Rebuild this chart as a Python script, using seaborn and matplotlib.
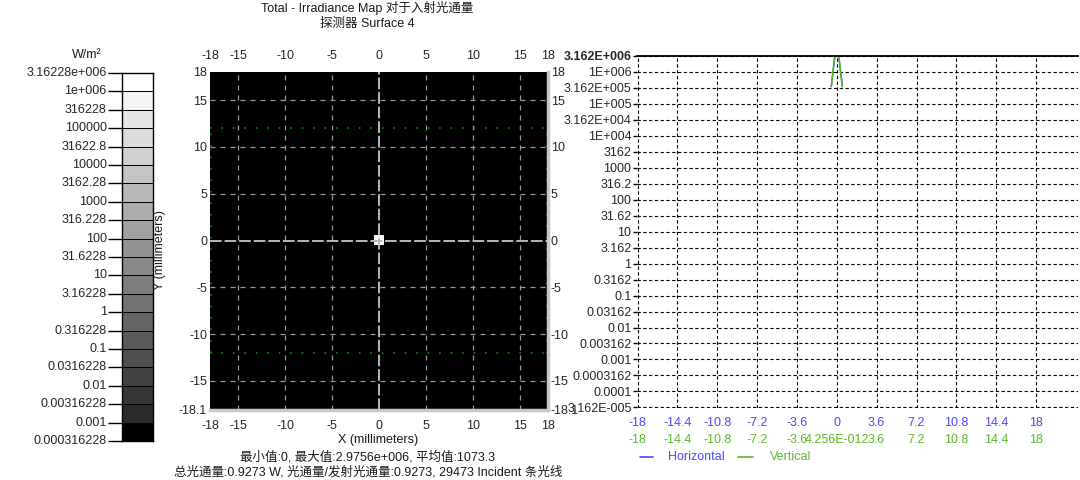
import numpy as np
import matplotlib
matplotlib.use('Agg')
import matplotlib.pyplot as plt
import matplotlib.transforms as mtransforms
from matplotlib.colors import ListedColormap, BoundaryNorm
import pandas as pd
import seaborn as sns

# ---------------- data ----------------
cbar_labels = ['3.16228e+006', '1e+006', '316228', '100000', '31622.8', '10000',
               '3162.28', '1000', '316.228', '100', '31.6228', '10', '3.16228', '1',
               '0.316228', '0.1', '0.0316228', '0.01', '0.00316228', '0.001', '0.000316228']
band_gray = [0, 42, 54, 66, 78, 89, 101, 113, 125, 137, 148, 160, 172, 184, 196,
             208, 220, 231, 243, 255]  # bottom band -> top band
map_xticks = [-18, -15, -10, -5, 0, 5, 10, 15, 18]
map_yticks = [18, 15, 10, 5, 0, -5, -10, -15, -18.1]
map_ytick_labels = ['18', '15', '10', '5', '0', '-5', '-10', '-15', '-18.1']
grid_pos = [-15, -10, -5, 5, 10, 15]
detector_pixels = 101
detector_half = 18.0
spot_values = [[4.0e5, 2.9e6, 4.0e5],
               [2.9e6, 2.9756e6, 2.9e6],
               [4.0e5, 2.9e6, 4.0e5]]
green_box_y = 12.0

profile_x = [-0.5, -0.18, 0.18, 0.5]
horizontal_profile = [3.5e5, 3.1e6, 3.1e6, 3.5e5]
vertical_profile = [3.5e5, 3.1e6, 3.1e6, 3.5e5]
profile_ticks = [-18, -14.4, -10.8, -7.2, -3.6, 0, 3.6, 7.2, 10.8, 14.4, 18]
h_tick_labels = ['-18', '-14.4', '-10.8', '-7.2', '-3.6', '0', '3.6', '7.2', '10.8', '14.4', '18']
v_tick_labels = ['-18', '-14.4', '-10.8', '-7.2', '-3.6', '4.256E-012', '3.6', '7.2', '10.8', '14.4', '18']
profile_ylabels = ['3.162E+006', '1E+006', '3.162E+005', '1E+005', '3.162E+004', '1E+004',
                   '3162', '1000', '316.2', '100', '31.62', '10', '3.162', '1', '0.3162',
                   '0.1', '0.03162', '0.01', '0.003162', '0.001', '0.0003162', '0.0001',
                   '3.162E-005']

title1 = 'Total - Irradiance Map 对于入射光通量'
title2 = '探测器 Surface 4'
info1 = '最小值:0, 最大值:2.9756e+006, 平均值:1073.3'
info2 = '总光通量:0.9273 W, 光通量/发射光通量:0.9273, 29473 Incident 条光线'

# ---------------- style ----------------
sns.set_theme(style='white')
plt.rcParams['font.family'] = ['Liberation Sans', 'Noto Sans CJK SC', 'DejaVu Sans']
plt.rcParams['font.size'] = 9
plt.rcParams['text.color'] = '#1a1a1a'

W, H = 1080, 480
fig = plt.figure(figsize=(W / 100, H / 100), dpi=100)
fig.patch.set_facecolor('white')


def px_axes(x0, y0, x1, y1):
    return fig.add_axes([x0 / W, 1 - y1 / H, (x1 - x0) / W, (y1 - y0) / H])


grays = [(g / 255, g / 255, g / 255) for g in band_gray]
cmap = ListedColormap(grays)

# ---------------- colorbar ----------------
ax_cb = px_axes(122, 73, 153, 441)
cb_data = pd.DataFrame(np.arange(len(band_gray))[::-1].reshape(-1, 1))
sns.heatmap(cb_data, ax=ax_cb, cmap=cmap, vmin=-0.5, vmax=len(band_gray) - 0.5,
            cbar=False, linewidths=0.45, linecolor='black', xticklabels=False)
ax_cb.set_yticks(np.arange(len(cbar_labels)))
ax_cb.set_yticklabels(cbar_labels, rotation=0, fontsize=9)
ax_cb.tick_params(axis='y', left=True, length=10, width=1, color='black', pad=1)
ax_cb.tick_params(axis='x', bottom=False)
for s in ax_cb.spines.values():
    s.set_visible(True)
    s.set_color('black')
    s.set_linewidth(1)
ax_cb.set_xlabel('')
ax_cb.set_ylabel('')
fig.text(87 / W, 1 - 55 / H, 'W/m²', ha='center', va='center', fontsize=9)

# ---------------- irradiance map ----------------
ax_m = px_axes(210, 72, 548, 410)
img = np.zeros((detector_pixels, detector_pixels))
spot = np.array(spot_values)
c = detector_pixels // 2
k = spot.shape[0] // 2
img[c - k:c + k + 1, c - k:c + k + 1] = spot
bounds = 10 ** (np.arange(-7, 14) / 2.0)
mcmap = ListedColormap(grays)
mcmap.set_under('black')
norm = BoundaryNorm(bounds, mcmap.N)
ax_m.imshow(img, cmap=mcmap, norm=norm, origin='lower', interpolation='nearest',
            extent=[-detector_half, detector_half, -detector_half, detector_half], aspect='auto')
ax_m.set_facecolor('black')
ax_m.set_xlim(-18, 18)
ax_m.set_ylim(-18.1, 18)
for g in grid_pos:
    ax_m.axvline(g, color='#9a9a9a', lw=0.9, ls=(0, (4, 4)))
    ax_m.axhline(g, color='#9a9a9a', lw=0.9, ls=(0, (4, 4)))
ax_m.axvline(0, color='#b8b8b8', lw=1.4, ls=(0, (6, 1.5)))
ax_m.axhline(0, color='#b8b8b8', lw=1.4, ls=(0, (6, 1.5)))
dot = (0, (1, 6.5))
ax_m.plot([-18, 18], [green_box_y, green_box_y], color='#00a800', lw=1.1, ls=dot)
ax_m.plot([-18, 18], [-green_box_y, -green_box_y], color='#00a800', lw=1.1, ls=dot)
ax_m.plot([-17.85, -17.85], [-green_box_y, green_box_y], color='#00a800', lw=1.1, ls=dot)
ax_m.plot([17.85, 17.85], [-green_box_y, green_box_y], color='#00a800', lw=1.1, ls=dot)
ax_m.set_xticks(map_xticks)
ax_m.set_xticklabels([str(v) for v in map_xticks])
ax_m.set_yticks(map_yticks)
ax_m.set_yticklabels(map_ytick_labels)
ax_m.tick_params(axis='x', length=0, pad=7, labeltop=True, labelbottom=True, labelsize=9)
ax_m.tick_params(axis='y', length=0, pad=2, labelleft=True, labelright=True, labelsize=9)
ax_m.spines['left'].set_visible(False)
ax_m.spines['top'].set_visible(False)
ax_m.spines['right'].set_color('#c8c8c8')
ax_m.spines['right'].set_linewidth(2.5)
ax_m.spines['bottom'].set_color('#c8c8c8')
ax_m.spines['bottom'].set_linewidth(2.5)
fig.text(378 / W, 1 - 440 / H, 'X (millimeters)', ha='center', va='center', fontsize=9)
fig.text(160 / W, 1 - 250 / H, 'Y (millimeters)', ha='center', va='center', rotation=90, fontsize=9)
fig.text(367 / W, 1 - 8 / H, title1, ha='center', va='center', fontsize=9)
fig.text(367 / W, 1 - 24 / H, title2, ha='center', va='center', fontsize=9)
fig.text(368 / W, 1 - 457 / H, info1, ha='center', va='center', fontsize=9)
fig.text(368 / W, 1 - 472 / H, info2, ha='center', va='center', fontsize=9)

# ---------------- profile plot ----------------
ax_p = px_axes(637, 56, 1078, 408)
df = pd.DataFrame({
    'x': profile_x * 2,
    'y': horizontal_profile + vertical_profile,
    'series': ['Horizontal'] * len(profile_x) + ['Vertical'] * len(profile_x),
})
sns.lineplot(data=df, x='x', y='y', hue='series', ax=ax_p, sort=False, estimator=None,
             palette={'Horizontal': '#4848ff', 'Vertical': '#4cbb17'}, legend=False, lw=1.1)
ax_p.set_yscale('log')
ax_p.set_ylim(10 ** -4.52, 10 ** 6.5)
ax_p.set_xlim(-18.05, 18 + 42 / (399 / 36))
yt = 10 ** (np.arange(13, -10, -1) / 2.0)
ax_p.set_yticks(yt)
ax_p.set_yticklabels(profile_ylabels)
ax_p.yaxis.set_minor_locator(matplotlib.ticker.NullLocator())
ax_p.set_xticks(profile_ticks)
ax_p.set_xticklabels([])
ax_p.tick_params(axis='y', left=True, length=3, width=1, color='black', pad=1, labelsize=9)
ax_p.tick_params(axis='x', bottom=False, length=0)
ax_p.get_yticklabels()[0].set_fontweight('bold')
for v in yt:
    ax_p.axhline(v, color='black', lw=0.8, ls=(0, (3, 2.2)), zorder=0)
for v in profile_ticks:
    ax_p.axvline(v, color='black', lw=0.8, ls=(0, (3, 2.2)), zorder=0)
for s in ['left', 'right', 'bottom']:
    ax_p.spines[s].set_visible(False)
ax_p.spines['top'].set_color('black')
ax_p.spines['top'].set_linewidth(1.3)
ax_p.set_xlabel('')
ax_p.set_ylabel('')

tr = mtransforms.blended_transform_factory(ax_p.transData, fig.transFigure)
for xv, lab in zip(profile_ticks, h_tick_labels):
    ax_p.text(xv, 1 - 423 / H, lab, transform=tr, ha='center', va='center',
              color='#4848ff', fontsize=9, clip_on=False)
for xv, lab in zip(profile_ticks, v_tick_labels):
    ax_p.text(xv, 1 - 440 / H, lab, transform=tr, ha='center', va='center',
              color='#5cb82c', fontsize=9, clip_on=False)

# legend
fig.add_artist(plt.Line2D([640 / W, 653 / W], [1 - 457 / H] * 2, color='#4848ff', lw=1.2))
fig.text(668 / W, 1 - 457 / H, 'Horizontal', color='#4848ff', va='center', ha='left', fontsize=9)
fig.add_artist(plt.Line2D([738 / W, 753 / W], [1 - 457 / H] * 2, color='#5cb82c', lw=1.2))
fig.text(770 / W, 1 - 457 / H, 'Vertical', color='#5cb82c', va='center', ha='left', fontsize=9)

fig.savefig('out.png', dpi=100, facecolor='white')
